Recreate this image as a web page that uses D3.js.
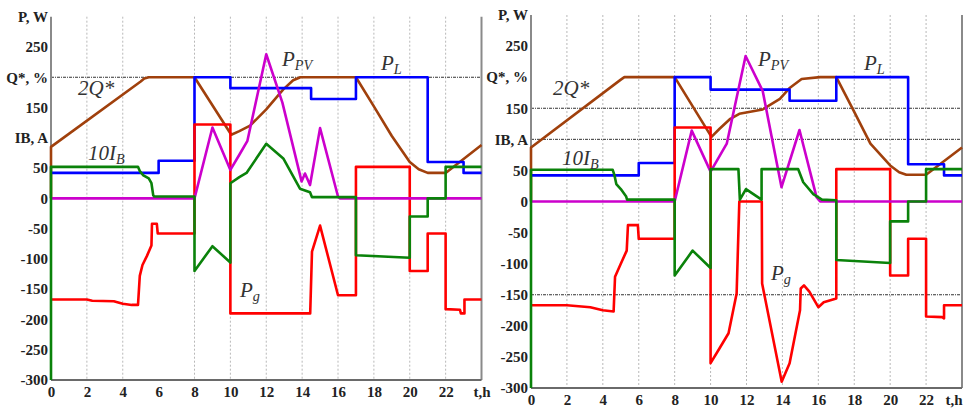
<!DOCTYPE html>
<html><head><meta charset="utf-8">
<script src="https://cdn.jsdelivr.net/npm/d3@7"></script>
<style>
html,body{margin:0;padding:0;background:#fff;}
svg{display:block;}
.tick text{font-family:"Liberation Serif","Times New Roman",serif !important;font-weight:bold;font-size:15px;fill:#222;}
.lbl{font-family:"Liberation Serif","Times New Roman",serif;font-style:italic;fill:#333;}
</style></head>
<body>
<svg id="chart" width="971" height="408"></svg>
<script>
// ---------- shared axis data ----------
const xTicks = [0,2,4,6,8,10,12,14,16,18,20,22,24];
const xTickLabels = ["0","2","4","6","8","10","12","14","16","18","20","22","t,h"];
const yTicks = [300,250,200,150,100,50,0,-50,-100,-150,-200,-250,-300];
const yTickLabels = ["P, W","250","Q*, %","150","IB, A","50","0","-50","-100","-150","-200","-250","-300"];

// ---------- left panel series [t (h), value] ----------
const leftPL = [[0,42],[6,42],[6,62],[8,62],[8,200],[10,200],[10,182],[14.5,182],[14.5,164],[17,164],[17,200],[21,200],[21,60],[23,60],[23,42],[24,42]];
const leftPPV = [[0,0],[8,0],[9,117],[10,47],[10.5,72],[10.95,95],[12,238],[12.9,158],[13.97,28],[14.16,41],[14.44,22],[15,116],[16,3],[16.1,0],[24,0]];
const leftQ2 = [[0,0],[0,85],[5.0,193],[5.2,198],[5.45,200],[8,200],[10.05,105],[10.5,111],[11.1,120],[12,147],[12.95,180],[13.5,195],[13.9,200],[17,200],[18,152],[19,103],[20,60],[20.5,48],[21,42],[22,42],[24,88]];
const leftIB10 = [[0,-300],[0,52],[4.85,52],[4.95,45],[5.15,38],[5.45,33],[5.6,25],[5.7,5],[5.75,3],[8,3],[8,-120],[9,-79],[10,-106],[10,25],[10.5,35],[10.9,42],[12,90],[12.95,66],[13.88,16],[14.16,13],[14.44,10],[14.55,2],[17,2],[17,-94],[20,-98],[20,-30],[21,-30],[21,0],[22,0],[22,52],[24,52]];
const leftPg = [[0,-167],[2,-167],[2.3,-169],[3.5,-170],[4,-174],[4.5,-176],[4.85,-176],[4.95,-128],[5.1,-110],[5.35,-95],[5.6,-78],[5.63,-42],[5.9,-42],[5.95,-58],[8,-58],[8,122],[10,122],[10,-190],[14.45,-190],[14.55,-88],[15,-45],[16,-160],[17,-160],[17,52],[20,52],[20,-120],[21,-120],[21,-58],[22,-58],[22,-183],[22.8,-184],[22.85,-190],[23.05,-190],[23.05,-167],[24,-167]];
const leftHLines = [200];
const leftVGrid = [2,4,8,10,12,14,16,18,20,22];

// ---------- right panel series [t (h), value] ----------
const rightPL = [[0,42],[6,42],[6,62],[8,62],[8,200],[10,200],[10,180],[14.4,180],[14.4,162],[17,162],[17,200],[21,200],[21,60],[23,60],[23,42],[24,42]];
const rightPPV = [[0,0],[8,0],[8.95,114],[10,48],[10.9,93],[11.95,234],[12.9,178],[13.95,23],[14.95,115],[15.9,7],[16.1,0],[24,0]];
const rightQ2 = [[0,0],[0,87],[5.0,196],[5.2,200],[8,200],[10.05,104],[10.5,117],[11.1,133],[11.6,141],[12.9,148],[13.86,165],[14.42,183],[15.07,197],[16.1,200],[17,200],[17.95,147],[18.9,93],[20,58],[20.5,47],[20.9,43],[22,43],[24,87]];
const rightIB10 = [[0,-300],[0,51],[4.55,51],[4.65,42],[4.75,28],[5.0,20],[5.3,8],[5.35,3],[8,3],[8,-119],[9,-79],[10,-107],[10,52],[11.55,52],[11.63,3],[11.97,20],[12.84,3],[12.84,52],[14.88,52],[15.16,31],[15.72,12],[16.2,3],[17,2],[17,-94],[20,-99],[20,-32],[21,-32],[21,0],[22,0],[22,52],[24,52]];
const rightPg = [[0,-167],[2,-167],[3.3,-170],[4,-175],[4.6,-177],[4.68,-121],[5.0,-100],[5.33,-79],[5.4,-38],[5.95,-38],[6.0,-60],[8,-60],[8,119],[10,119],[10,-260],[10.5,-236],[11,-212],[11.45,-148],[11.6,0],[12.85,0],[12.87,-132],[13.96,-290],[14.4,-260],[14.98,-175],[15.02,-140],[15.2,-135],[15.5,-145],[16,-170],[16.3,-162],[17,-156],[17,52],[20,52],[20,-119],[21,-119],[21,-60],[22,-60],[22,-185],[22.9,-186],[23,-188],[23,-167],[24,-167]];
const rightHLines = [150,100,-150];
const rightVGrid = [2,4,6,8,10,12,14,16,18,20,22];

const colors = {PL:"#0000ff", PPV:"#cc00cc", Q:"#a0400c", IB:"#0a820a", Pg:"#ff0000"};
const SERIF = '"Liberation Serif","Times New Roman",serif';

const svg = d3.select("#chart");

function panel(cfg){
  const x = d3.scaleLinear().domain([0,24]).range(cfg.xr);
  const y = d3.scaleLinear().domain([-300,300]).range(cfg.yr);
  const g = svg.append("g");

  // vertical dotted grid
  g.selectAll(".vg").data(cfg.vgrid).join("line")
    .attr("x1",d=>x(d)).attr("x2",d=>x(d)).attr("y1",y(300)).attr("y2",y(-300))
    .attr("stroke","#b8b8b8").attr("stroke-width",1).attr("stroke-dasharray","2,2");
  // horizontal dash-dot lines
  g.selectAll(".hg").data(cfg.hlines).join("line")
    .attr("x1",x(0)).attr("x2",x(24)).attr("y1",d=>y(d)).attr("y2",d=>y(d))
    .attr("stroke","#333").attr("stroke-width",1).attr("stroke-dasharray","3,1,1,1");

  // axes
  const ya = d3.axisLeft(y).tickValues(yTicks).tickSize(0).tickPadding(3)
    .tickFormat((d,i)=>yTickLabels[i]);
  g.append("g").attr("transform",`translate(${x(0)},0)`).call(ya)
    .attr("font-family",SERIF).attr("font-size",15).attr("font-weight","bold")
    .call(s=>s.select(".domain").remove())
    .call(s=>s.selectAll("text").attr("font-family",SERIF));
  const xa = d3.axisBottom(x).tickValues(xTicks).tickSize(0).tickPadding(6)
    .tickFormat((d,i)=>xTickLabels[i]);
  const xg = g.append("g").attr("transform",`translate(0,${y(-300)})`).call(xa)
    .attr("font-family",SERIF).attr("font-size",15).attr("font-weight","bold")
    .call(s=>s.select(".domain").remove())
    .call(s=>s.selectAll("text").attr("font-family",SERIF));
  if(cfg.lastTickAnchor){
    xg.selectAll(".tick text").filter(d=>d===24).attr("text-anchor",cfg.lastTickAnchor);
  }

  // frame lines
  g.append("line").attr("x1",x(0)).attr("x2",x(0)).attr("y1",y(300)).attr("y2",y(-300))
    .attr("stroke","#8a8a8a").attr("stroke-width",2);
  g.append("line").attr("x1",x(24)).attr("x2",x(24)).attr("y1",y(300)).attr("y2",y(-300))
    .attr("stroke","#8a8a8a").attr("stroke-width",2);
  g.append("line").attr("x1",x(0)).attr("x2",x(24)).attr("y1",y(-300)).attr("y2",y(-300))
    .attr("stroke","#6a6a6a").attr("stroke-width",2);

  const line = d3.line().x(d=>x(d[0])).y(d=>y(d[1]));
  const order = [["Q",cfg.Q],["PL",cfg.PL],["Pg",cfg.Pg],["PPV",cfg.PPV],["IB",cfg.IB]];
  order.forEach(([k,data])=>{
    g.append("path").datum(data).attr("d",line).attr("fill","none")
      .attr("stroke",colors[k]).attr("stroke-width",2.6)
      .attr("stroke-linejoin","round");
  });

  // series labels
  function label(px,py,main,sub,size){
    const t = g.append("text").attr("class","lbl").attr("x",px).attr("y",py)
      .attr("font-size",size);
    t.append("tspan").text(main);
    if(sub) t.append("tspan").attr("font-size",size*0.68).attr("dy",size*0.18).text(sub);
  }
  cfg.labels.forEach(l=>label(...l));
}

panel({xr:[51,481.5], yr:[380,16.7], vgrid:leftVGrid, hlines:leftHLines,
  PL:leftPL, PPV:leftPPV, Q:leftQ2, IB:leftIB10, Pg:leftPg,
  labels:[[78,95,"2Q*","",21],[88,160,"10I","B",21],[282,66,"P","PV",21],[381,70,"P","L",21],[240,297,"P","g",21]]});

panel({xr:[531,962], yr:[388,15], vgrid:rightVGrid, hlines:rightHLines, lastTickAnchor:"end",
  PL:rightPL, PPV:rightPPV, Q:rightQ2, IB:rightIB10, Pg:rightPg,
  labels:[[553,95,"2Q*","",21],[562,165,"10I","B",21],[758,66,"P","PV",21],[864,70,"P","L",21],[771,280,"P","g",21]]});
</script>
</body></html>
